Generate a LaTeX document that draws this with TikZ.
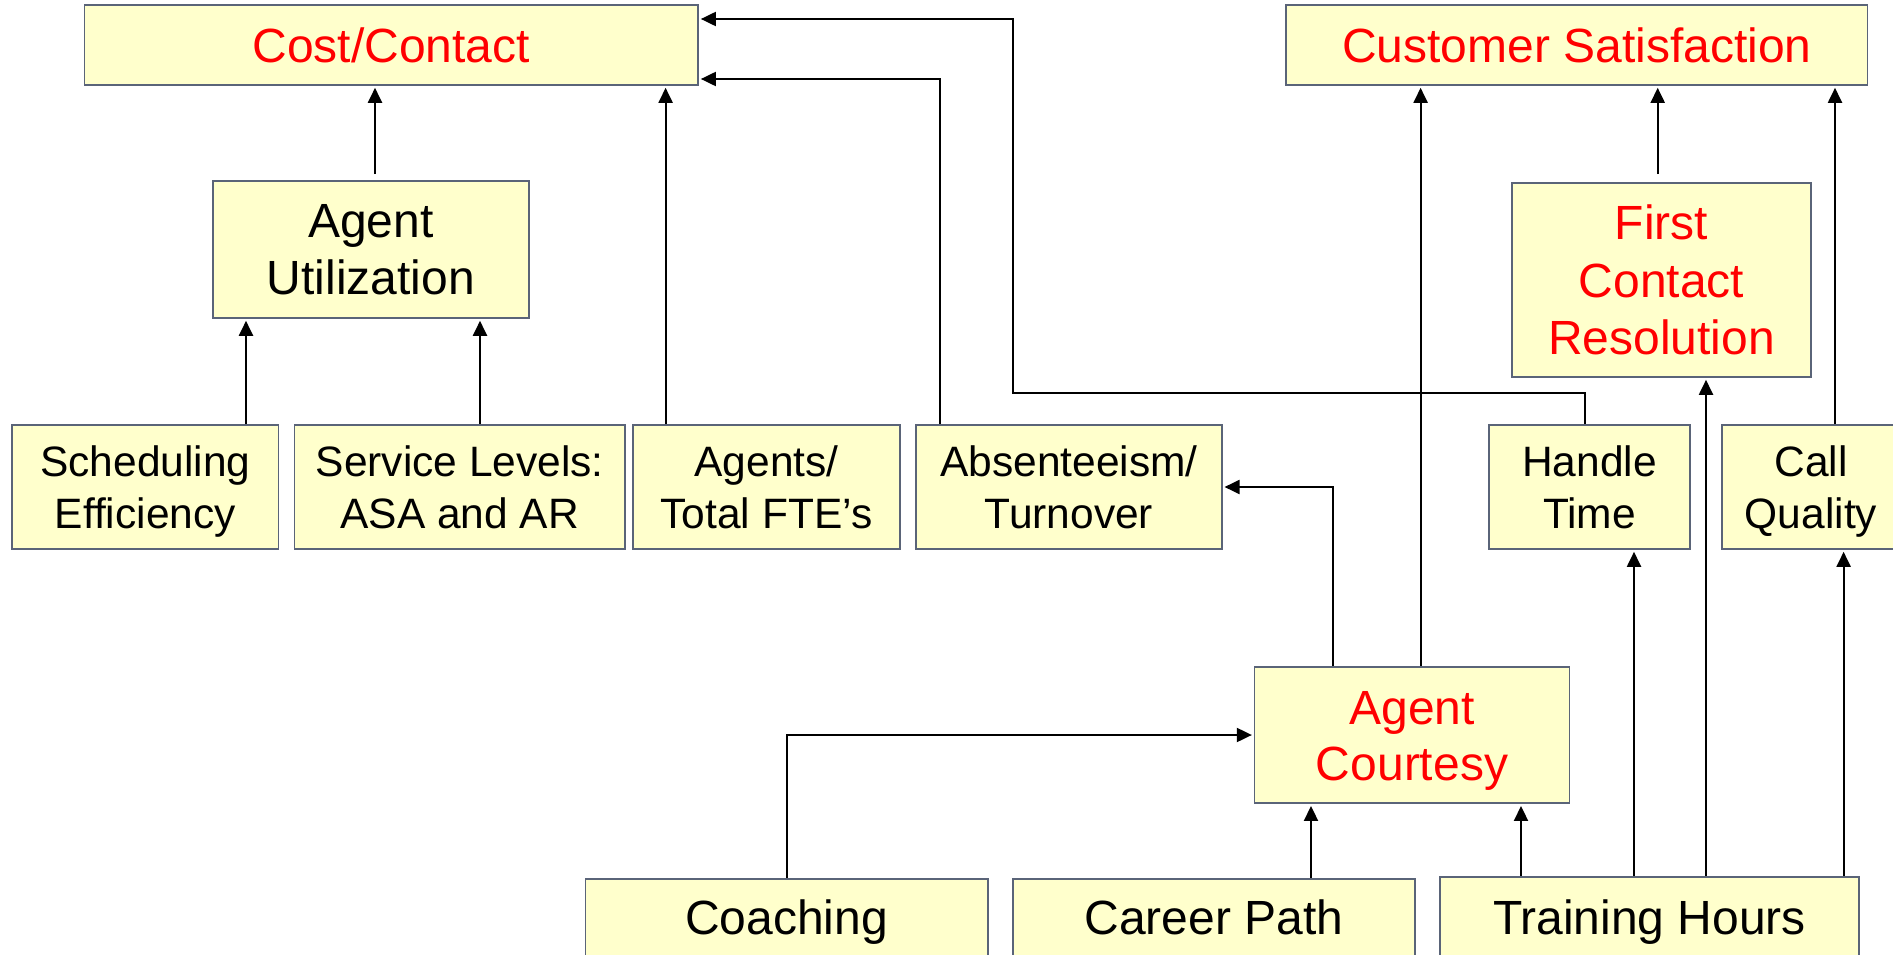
\documentclass[tikz,border=0pt]{standalone}
\usepackage{fontspec}
\setmainfont{Liberation Sans}
\usetikzlibrary{arrows.meta}
\definecolor{boxfill}{HTML}{FFFFCC}
\definecolor{boxline}{HTML}{5A6478}
\definecolor{redtxt}{HTML}{FF0000}
\newcommand{\liftA}[1]{\rule{0pt}{#1}}
\tikzset{
  box/.style={draw=boxline, fill=boxfill, line width=1.6pt, inner sep=0pt, align=center, anchor=center},
  bigf/.style={font=\fontsize{48}{57.5}\selectfont},
  midf/.style={font=\fontsize{48}{56}\selectfont},
  smallf/.style={font=\fontsize{42.5}{52}\selectfont},
  hot/.style={text=redtxt},
  arr/.style={line width=2pt, -{Triangle[length=15pt,width=14pt]}, shorten >=2pt},
}
\begin{document}
\begin{tikzpicture}[x=1pt,y=-1pt]
\useasboundingbox (0,0) rectangle (1893,955);
\clip (0,0) rectangle (1893,955);

% top row
\node[box,bigf,hot,minimum width=613.5pt,minimum height=80pt] (cost) at (391.3,45) {Cost/Contact};
\node[box,bigf,hot,minimum width=581.5pt,minimum height=80pt] (cs) at (1576.8,45) {Customer Satisfaction};

% second row
\node[box,font=\fontsize{48}{57}\selectfont,minimum width=316pt,minimum height=137pt] (au) at (371,249.5) {Agent\\Utilization};
\node[box,bigf,hot,minimum width=299pt,minimum height=194pt] (fcr) at (1661.5,280) {First\\Contact\\Resolution};

% third row
\node[box,smallf,minimum width=266.6pt,minimum height=124pt] (sched) at (145.3,487) {Scheduling\liftA{40pt}\\Efficiency};
\node[box,smallf,minimum width=330.5pt,minimum height=124pt] (serv) at (459.75,487) {Service Levels:\\ASA and AR};
\node[box,smallf,minimum width=267pt,minimum height=124pt] (agents) at (766.5,487) {Agents/\\Total FTE’s};
\node[box,smallf,minimum width=305.7pt,minimum height=124pt] (abs) at (1068.9,487) {Absenteeism/\\Turnover};
\node[box,smallf,minimum width=201pt,minimum height=124pt] (ht) at (1589.5,487) {Handle\\Time};
\node[box,smallf,minimum width=178.6pt,minimum height=124pt] (cq) at (1811,487) {Call\liftA{40pt}\\Quality};

% agent courtesy
\node[box,midf,hot,minimum width=314.7pt,minimum height=136.3pt] (ac) at (1412,735) {Agent\liftA{44.5pt}\\Courtesy};

% bottom row
\node[box,font=\fontsize{48}{57}\selectfont,minimum width=402.2pt,minimum height=87.6pt] (coach) at (786.6,922.5) {Coaching};
\node[box,font=\fontsize{48}{57}\selectfont,minimum width=402pt,minimum height=76.6pt] (career) at (1214,917) {Career Path};
\node[box,font=\fontsize{48}{57}\selectfont,minimum width=419pt,minimum height=91.6pt] (train) at (1649.5,922.5) {Training Hours};

% helper positions
\coordinate (xau) at (375,0);
\coordinate (xsched) at (246,0);
\coordinate (xserv) at (480,0);
\coordinate (xagents) at (665.6,0);
\coordinate (xabs) at (940,0);
\coordinate (yabs) at (0,79);
\coordinate (xht) at (1585,0);
\coordinate (yht) at (0,392.7);
\coordinate (xturn) at (1012.7,0);
\coordinate (yturn) at (0,19);
\coordinate (xacabs) at (1333,0);
\coordinate (xaccs) at (1420.6,0);
\coordinate (xfcr) at (1657.7,0);
\coordinate (xcq) at (1835,0);
\coordinate (xcareer) at (1311,0);
\coordinate (xcoach) at (787,0);
\coordinate (xtac) at (1521,0);
\coordinate (xtht) at (1634,0);
\coordinate (xtfcr) at (1706,0);
\coordinate (xtcq) at (1843.6,0);

% connectors to Cost/Contact
\draw[arr,shorten <=6pt] (xau |- au.north) -- (xau |- cost.south);
\draw[arr] (xagents |- agents.north) -- (xagents |- cost.south);
\draw[arr] (xabs |- abs.north) -- (xabs |- yabs) -- (cost.east |- yabs);
\coordinate (htA) at (xht |- yht);
\coordinate (htB) at (xturn |- yht);
\coordinate (htC) at (xturn |- yturn);
\draw[arr] (xht |- ht.north) -- (htA) -- (htB) -- (htC) -- (cost.east |- yturn);

% connectors to Agent Utilization
\draw[arr] (xsched |- sched.north) -- (xsched |- au.south);
\draw[arr] (xserv |- serv.north) -- (xserv |- au.south);

% connectors to Customer Satisfaction
\draw[arr] (xaccs |- ac.north) -- (xaccs |- cs.south);
\draw[arr,shorten <=8pt] (xfcr |- fcr.north) -- (xfcr |- cs.south);
\draw[arr] (xcq |- cq.north) -- (xcq |- cs.south);

% Agent Courtesy to Absenteeism
\draw[arr] (xacabs |- ac.north) |- (abs.east);

% into Agent Courtesy
\draw[arr] (xcoach |- coach.north) |- (ac.west);
\draw[arr] (xcareer |- career.north) -- (xcareer |- ac.south);
\draw[arr] (xtac |- train.north) -- (xtac |- ac.south);

% Training Hours to others
\draw[arr] (xtht |- train.north) -- (xtht |- ht.south);
\draw[arr] (xtfcr |- train.north) -- (xtfcr |- fcr.south);
\draw[arr] (xtcq |- train.north) -- (xtcq |- cq.south);
\end{tikzpicture}
\end{document}
